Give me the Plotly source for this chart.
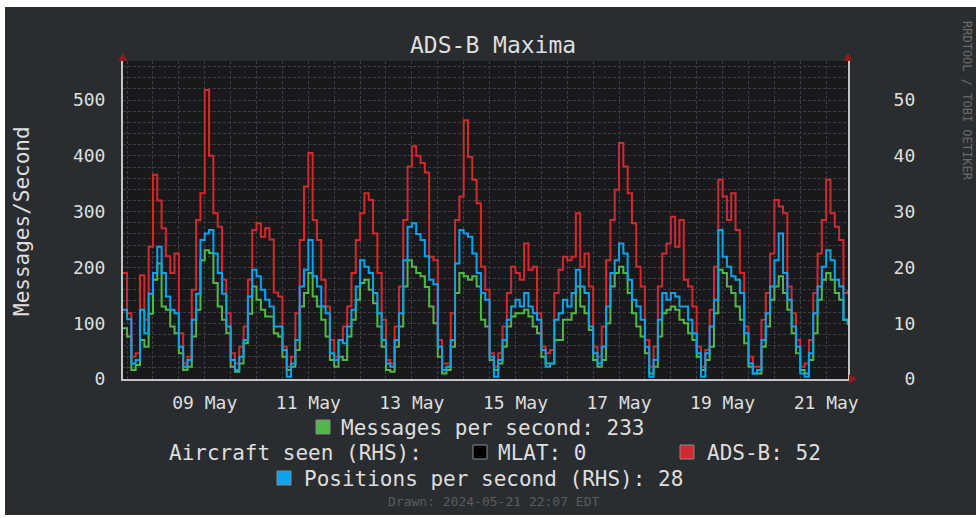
import pandas as pd
import plotly.graph_objects as go

# 2-hour maxima, first point 2024-05-07 22:00 (EDT), then 12 points per day, 08 May .. 21 May
times = pd.date_range('2024-05-07 22:00', periods=169, freq='2h')

# messages per second (left axis)
msgs = [91,
        76, 16, 25, 70, 58, 117, 178, 207, 130, 124, 94, 82,
        46, 16, 22, 76, 124, 213, 231, 226, 172, 130, 106, 82,
        22, 13, 28, 64, 117, 166, 142, 124, 112, 112, 82, 76,
        40, 16, 22, 52, 130, 154, 190, 148, 130, 106, 76, 34,
        22, 40, 34, 76, 106, 142, 172, 178, 160, 136, 94, 58,
        16, 13, 58, 94, 166, 213, 201, 190, 184, 165, 130, 100,
        40, 10, 16, 58, 154, 190, 184, 178, 184, 166, 106, 94,
        34, 16, 28, 58, 94, 112, 118, 118, 124, 112, 94, 82,
        40, 28, 28, 70, 70, 106, 106, 118, 166, 130, 118, 88,
        34, 22, 34, 100, 166, 190, 201, 190, 154, 118, 94, 76,
        46, 10, 22, 76, 118, 124, 130, 124, 106, 100, 82, 70,
        40, 16, 34, 58, 118, 196, 190, 166, 154, 130, 106, 64,
        22, 10, 10, 58, 94, 142, 166, 184, 154, 124, 82, 46,
        16, 10, 34, 82, 142, 178, 190, 178, 154, 142, 106, 100]

# ADS-B aircraft seen (right axis)
adsb = [19,
        11.8, 4, 4.6, 18.6, 10.6, 23.7, 36.6, 32, 27, 22, 19, 22.5,
        8.2, 2.8, 4, 16, 28.5, 33.3, 51.8, 40, 29.7, 27.3, 17.8, 11.8,
        4.6, 2.8, 5.8, 9.4, 17.8, 26.7, 27.9, 25.5, 27, 25, 15.5, 14.8,
        5.8, 2.2, 4, 11.8, 24.9, 34.5, 40.5, 28.5, 24.9, 17.8, 13, 7,
        4, 7, 9.4, 13, 19, 24.9, 29.7, 33.3, 32.1, 26.1, 19, 10.6,
        3.4, 2.8, 9.4, 16.6, 28.5, 38.1, 41.7, 40, 38.7, 37, 21.9, 21.3,
        7, 2.8, 2.8, 11.8, 28.5, 32.7, 46.4, 39.8, 35.7, 31.5, 20.1, 16,
        4.6, 2.2, 4.6, 9.4, 15.4, 20.1, 19, 17.8, 24.3, 19.6, 20.1, 11.8,
        5.8, 4.6, 5.2, 15.4, 19.6, 21.9, 21.3, 21.9, 29.7, 20.1, 22.5, 16.6,
        5.8, 4, 9.4, 21.3, 28.5, 33.9, 42.3, 38.1, 33.3, 27.9, 20.1, 16.6,
        7, 2.2, 5.8, 16.6, 22.5, 24.3, 29.1, 23.7, 28.5, 17.8, 16.6, 13,
        5.8, 2.2, 5.2, 12.4, 20.1, 35.7, 32.7, 28.5, 33.3, 26.7, 19, 9.4,
        4, 2.2, 2.2, 10.6, 15.4, 22.5, 32.1, 30.9, 29.7, 16.6, 11.8, 7,
        2.2, 2.8, 7, 15.4, 22.5, 28.5, 35.7, 29.7, 27.3, 24.9, 15.4, 16]

# positions per second (right axis)
positions = [12.4,
             10.7, 2.8, 3.4, 12.4, 8.2, 15.3, 19, 23.7, 19, 14.8, 12.4, 11.8,
             5.8, 2.2, 3.4, 10.6, 15.3, 24.9, 26.1, 26.7, 22.5, 19, 15.3, 9.4,
             3.4, 1.6, 4, 7, 14.8, 19.6, 18.4, 16, 14.2, 13, 9.4, 9.4,
             5.2, 0.4, 2.8, 7, 16.6, 19.6, 24.9, 18.4, 16.6, 13, 11.8, 4.6,
             3.4, 7, 6.4, 9.4, 12.4, 16.6, 21.3, 20.1, 19, 15.4, 11.8, 7,
             2.8, 2.2, 7, 11.8, 21.3, 27.3, 27.9, 26, 24.9, 22, 17.8, 17,
             5.8, 1.6, 2.2, 7, 20.7, 26.7, 26.1, 25.5, 22.5, 19, 15.4, 14.2,
             4, 0.4, 3.4, 7, 10.6, 13, 14.2, 13, 15.4, 13, 11.8, 10.6,
             5.2, 2.2, 2.8, 10.6, 11.8, 14.2, 13, 15.4, 19.6, 16.6, 15.4, 9.4,
             4.6, 2.8, 5.8, 13, 19, 21.3, 24.3, 22.5, 17.8, 14.2, 13, 10.6,
             5.8, 0.4, 3.4, 10.6, 15.4, 14.2, 15.4, 14.8, 13, 13, 10.6, 8.2,
             4.6, 0.4, 4.6, 9.4, 14.2, 26.7, 21.9, 20.1, 18.4, 17.8, 15.4, 8.2,
             2.8, 1, 1.6, 7, 11.8, 16.6, 21.3, 26.1, 19, 14.2, 9.4, 5.8,
             1, 0.4, 4.6, 11.8, 16.6, 20.1, 23.1, 21.3, 17.8, 16.6, 10.6, 9.7]

# x labels sit at noon of every second day
tick_days = ['2024-05-09 12:00', '2024-05-11 12:00', '2024-05-13 12:00', '2024-05-15 12:00',
             '2024-05-17 12:00', '2024-05-19 12:00', '2024-05-21 12:00']
tick_labels = ['09 May', '11 May', '13 May', '15 May', '17 May', '19 May', '21 May']
left_ticks = [0, 100, 200, 300, 400, 500]
right_ticks = [0, 10, 20, 30, 40, 50]

msgs_now = 233
mlat_now = 0
adsb_now = 52
pos_now = 28

GREEN = '#50b848'
RED = '#d2282e'
BLUE = '#0aa4ee'
PANEL = '#2a2d30'
PLOTBG = '#19191b'
GRID = '#3e3e42'
TXT = '#dedede'
FONT = 'DejaVu Sans Mono'

# plot area in pixels
L, R, T, B = 123, 848, 61, 379


def px(x):
    return (x - L) / (R - L)


def py(y):
    return (B - y) / (B - T)


fig = go.Figure()
fig.add_trace(go.Scatter(x=times, y=msgs, mode='lines', line_shape='hv',
                         line=dict(color=GREEN, width=2), yaxis='y'))
fig.add_trace(go.Scatter(x=times, y=adsb, mode='lines', line_shape='hv',
                         line=dict(color=RED, width=2), yaxis='y2'))
fig.add_trace(go.Scatter(x=times, y=positions, mode='lines', line_shape='hv',
                         line=dict(color=BLUE, width=2), yaxis='y2'))

shapes = [
    dict(type='rect', xref='paper', yref='paper', x0=px(5), x1=px(976), y0=py(515), y1=py(7),
         fillcolor=PANEL, line_width=0, layer='below'),
    dict(type='rect', xref='paper', yref='paper', x0=0, x1=1, y0=0, y1=1,
         fillcolor=PLOTBG, line_width=0, layer='below'),
    # arrow heads
    dict(type='path', xref='paper', yref='paper', fillcolor='#8e1c1c', line_width=0,
         path=f'M {px(123)} {py(53)} L {px(118.5)} {py(61)} L {px(127.5)} {py(61)} Z'),
    dict(type='path', xref='paper', yref='paper', fillcolor='#8e1c1c', line_width=0,
         path=f'M {px(848)} {py(53)} L {px(843.5)} {py(61)} L {px(852.5)} {py(61)} Z'),
    dict(type='path', xref='paper', yref='paper', fillcolor='#8e1c1c', line_width=0,
         path=f'M {px(857)} {py(379)} L {px(849)} {py(374.5)} L {px(849)} {py(383.5)} Z'),
]

# legend boxes
for x0, y0, col in [(316, 420, GREEN), (473, 445, '#000000'), (680, 445, RED), (277, 471, BLUE)]:
    shapes.append(dict(type='rect', xref='paper', yref='paper',
                       x0=px(x0), x1=px(x0 + 14), y0=py(y0 + 14), y1=py(y0),
                       fillcolor=col, line=dict(color='#8a8a8a', width=1)))


def note(text, x, y, size, color=TXT, xanchor='left', angle=0):
    return dict(text=text, x=px(x), y=py(y), xref='paper', yref='paper', showarrow=False,
                xanchor=xanchor, yanchor='middle', textangle=angle,
                font=dict(family=FONT, size=size, color=color))


annotations = [
    note('ADS-B Maxima', 493, 45, 23, xanchor='center'),
    note('Messages/Second', 22, 221, 21, xanchor='center', angle=-90),
    note('RRDTOOL / TOBI OETIKER', 967, 101, 12, color='#6a6a6a', xanchor='center', angle=90),
    note(f'Messages per second: {msgs_now}', 339, 428, 21),
    note('Aircraft seen (RHS):', 167, 453, 21),
    note(f'MLAT: {mlat_now}', 496, 453, 21),
    note(f'ADS-B: {adsb_now}', 705, 453, 21),
    note(f'Positions per second (RHS): {pos_now}', 302, 479, 21),
    note('Drawn: 2024-05-21 22:07 EDT', 494, 501, 13, color='#5c5c5c', xanchor='center'),
]

fig.update_layout(
    width=976, height=518,
    margin=dict(l=L, r=976 - R, t=T, b=518 - B),
    paper_bgcolor='white', plot_bgcolor=PLOTBG,
    showlegend=False,
    font=dict(family=FONT, color=TXT),
    shapes=shapes, annotations=annotations,
    xaxis=dict(type='date', range=['2024-05-07 22:07', '2024-05-21 22:07'],
               tickmode='array', tickvals=tick_days, ticktext=tick_labels,
               tickfont=dict(size=18, color=TXT), ticks='', ticklabelstandoff=6,
               showgrid=True, gridcolor=GRID, griddash='3px,2px', gridwidth=1,
               minor=dict(tick0='2024-05-08 00:00', dtick=12 * 3600 * 1000, showgrid=True,
                          gridcolor=GRID, griddash='3px,2px', gridwidth=1),
               showline=True, linecolor='#c4c4c4', linewidth=2, zeroline=False),
    yaxis=dict(range=[0, 570], tickmode='array', tickvals=left_ticks,
               tickfont=dict(size=18, color=TXT), ticks='', ticklabelstandoff=12,
               showgrid=True, gridcolor=GRID, griddash='3px,2px', gridwidth=1,
               minor=dict(dtick=20, showgrid=True, gridcolor=GRID, griddash='3px,2px', gridwidth=1),
               showline=True, linecolor='#c4c4c4', linewidth=2, zeroline=False),
    yaxis2=dict(range=[0, 57], overlaying='y', side='right', tickmode='array',
                tickvals=right_ticks, ticktext=['\u00a0' + str(v) if v < 10 else str(v) for v in right_ticks],
                tickfont=dict(size=18, color=TXT), ticks='', ticklabelstandoff=40,
                showgrid=False, showline=True, linecolor='#c4c4c4', linewidth=2, zeroline=False),
)

# the page's default body margin would push the figure 8px down and right
fig.write_html("out.html", config={'displayModeBar': False},
               post_script="document.body.style.margin='0px';")
